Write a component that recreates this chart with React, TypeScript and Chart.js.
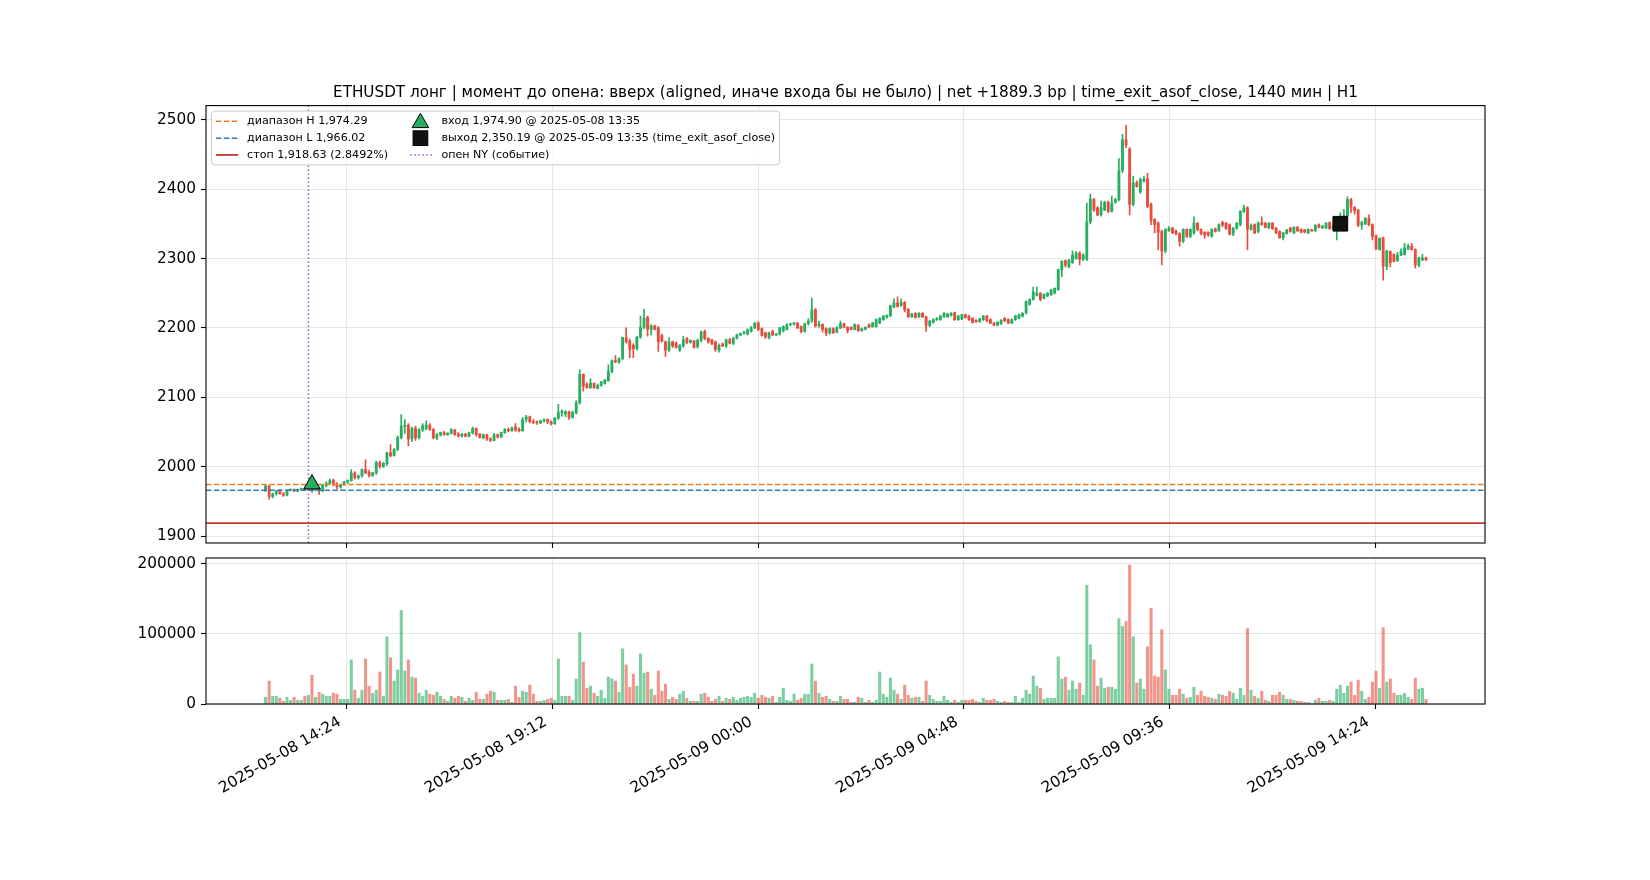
import { useEffect, useRef } from "react";
import { Chart, registerables } from "chart.js";

Chart.register(...registerables);

// ---------------- data ----------------
// first candle: 2025-05-08 12:30 (hours since 2025-05-08 00:00), 5-minute candles
const FIRST_CANDLE_HOUR = 12.5;
const CANDLE_MINUTES = 5;

const OPEN = [
  1966,1972,1957,1961,1965,1961,1959,1966,1967,1965,
  1967,1968,1967,1970,1967,1969,1965,1973,1976,1980,
  1975,1971,1974,1978,1980,1991,1984,1987,1996,1992,
  1987,1991,2006,2000,2004,2020,2016,2025,2042,2058,
  2060,2040,2055,2042,2053,2055,2060,2054,2041,2046,
  2049,2046,2048,2053,2047,2044,2047,2044,2049,2055,
  2047,2042,2046,2040,2038,2046,2043,2049,2054,2052,
  2057,2054,2052,2068,2072,2065,2064,2063,2066,2068,
  2064,2062,2070,2078,2076,2079,2071,2078,2092,2133,
  2119,2114,2120,2113,2117,2120,2124,2137,2153,2151,
  2156,2186,2181,2175,2170,2187,2201,2215,2198,2203,
  2200,2189,2180,2168,2180,2178,2168,2174,2185,2179,
  2181,2173,2182,2195,2185,2183,2180,2168,2177,2174,
  2183,2178,2185,2190,2192,2191,2195,2200,2207,2199,
  2193,2186,2195,2190,2191,2196,2198,2205,2205,2207,
  2202,2195,2206,2210,2226,2203,2205,2199,2193,2199,
  2194,2200,2206,2201,2201,2198,2204,2196,2198,2205,
  2202,2202,2207,2212,2215,2218,2230,2236,2232,2237,
  2227,2216,2221,2216,2221,2216,2204,2208,2212,2212,
  2216,2216,2218,2222,2212,2213,2219,2217,2214,2211,
  2209,2212,2217,2212,2207,2204,2206,2214,2212,2207,
  2212,2214,2217,2222,2234,2241,2247,2250,2243,2246,
  2248,2250,2255,2284,2297,2288,2294,2300,2308,2299,
  2299,2353,2385,2373,2363,2370,2381,2368,2381,2385,
  2427,2471,2458,2378,2409,2396,2412,2415,2378,2356,
  2351,2339,2311,2340,2344,2340,2336,2325,2342,2332,
  2337,2351,2342,2338,2338,2332,2343,2340,2352,2351,
  2349,2335,2344,2349,2368,2373,2342,2349,2339,2352,
  2351,2344,2351,2344,2339,2330,2336,2344,2337,2345,
  2342,2341,2337,2341,2340,2349,2344,2344,2352,2343,
  2347,2346,2350,2362,2385,2374,2370,2348,2350,2358,
  2349,2333,2313,2330,2289,2310,2306,2297,2305,2306,
  2314,2318,2313,2291,2298,2301,
];
const HIGH = [
  1973,1973,1962,1966,1967,1963,1967,1968,1968,1968,
  1969,1970,1971,1976,1970,1970,1975,1978,1982,1982,
  1977,1975,1979,1981,1996,1993,1988,1997,2010,1995,
  1992,2008,2008,2006,2021,2032,2026,2044,2075,2068,
  2062,2057,2058,2055,2062,2066,2062,2055,2048,2050,
  2051,2049,2055,2054,2049,2048,2048,2050,2057,2056,
  2048,2047,2047,2042,2048,2047,2050,2055,2056,2057,
  2062,2056,2071,2074,2073,2068,2066,2067,2069,2069,
  2066,2071,2090,2082,2081,2080,2080,2095,2140,2134,
  2121,2127,2121,2119,2123,2126,2147,2154,2160,2157,
  2187,2200,2184,2177,2188,2217,2227,2217,2205,2204,
  2202,2191,2181,2186,2181,2180,2176,2188,2186,2183,
  2182,2184,2196,2197,2186,2184,2181,2177,2178,2184,
  2185,2187,2191,2193,2195,2199,2202,2208,2209,2200,
  2194,2194,2197,2192,2201,2203,2206,2207,2208,2208,
  2203,2207,2213,2243,2228,2210,2206,2200,2200,2200,
  2202,2210,2207,2202,2202,2206,2205,2200,2202,2206,
  2208,2213,2215,2218,2219,2233,2242,2245,2242,2238,
  2228,2221,2222,2222,2222,2217,2211,2213,2215,2218,
  2222,2221,2222,2223,2218,2220,2220,2218,2215,2212,
  2214,2218,2218,2213,2208,2209,2212,2215,2213,2213,
  2218,2220,2222,2239,2242,2259,2259,2251,2249,2251,
  2256,2258,2285,2297,2298,2299,2311,2310,2310,2307,
  2380,2393,2387,2375,2383,2383,2383,2390,2387,2444,
  2479,2492,2460,2419,2412,2416,2419,2423,2380,2358,
  2353,2341,2343,2346,2345,2341,2337,2343,2343,2343,
  2360,2352,2343,2339,2339,2343,2344,2350,2354,2352,
  2350,2345,2352,2369,2377,2375,2350,2350,2353,2360,
  2352,2352,2352,2345,2340,2338,2342,2345,2346,2346,
  2343,2342,2343,2342,2349,2350,2348,2352,2353,2350,
  2352,2366,2371,2389,2387,2375,2371,2354,2359,2363,
  2350,2334,2330,2331,2312,2311,2307,2309,2314,2322,
  2321,2322,2314,2302,2306,2302,
];
const LOW = [
  1964,1953,1955,1959,1960,1957,1958,1965,1964,1964,
  1966,1966,1966,1963,1965,1960,1964,1971,1974,1972,
  1968,1969,1973,1976,1979,1982,1982,1985,1990,1985,
  1986,1989,1998,1999,2002,2014,2015,2023,2040,2048,
  2030,2036,2038,2040,2051,2053,2052,2040,2039,2044,
  2045,2045,2047,2045,2043,2043,2043,2043,2047,2044,
  2041,2040,2038,2036,2037,2041,2042,2048,2050,2051,
  2051,2050,2051,2064,2063,2062,2061,2062,2064,2062,
  2060,2061,2068,2073,2072,2068,2070,2076,2090,2109,
  2113,2113,2113,2112,2116,2119,2123,2135,2150,2149,
  2154,2178,2157,2157,2168,2185,2199,2188,2190,2197,
  2166,2180,2159,2166,2172,2171,2166,2172,2177,2178,
  2171,2171,2180,2183,2178,2176,2166,2165,2173,2172,
  2177,2176,2184,2189,2191,2190,2194,2199,2196,2188,
  2185,2184,2189,2189,2190,2194,2197,2203,2204,2199,
  2193,2194,2204,2208,2201,2201,2194,2189,2191,2192,
  2193,2199,2200,2193,2197,2197,2195,2195,2197,2200,
  2201,2201,2206,2211,2214,2216,2229,2230,2231,2223,
  2215,2215,2214,2215,2215,2195,2202,2207,2211,2211,
  2215,2215,2217,2211,2211,2212,2214,2211,2207,2208,
  2208,2211,2209,2206,2203,2203,2205,2209,2206,2206,
  2211,2213,2216,2220,2233,2240,2246,2239,2242,2245,
  2247,2249,2254,2274,2288,2287,2293,2299,2291,2297,
  2297,2350,2368,2362,2361,2369,2366,2367,2380,2383,
  2424,2460,2363,2376,2403,2394,2410,2373,2349,2337,
  2313,2291,2308,2339,2336,2334,2318,2323,2330,2330,
  2335,2340,2334,2329,2332,2331,2338,2339,2346,2342,
  2334,2333,2342,2347,2366,2313,2341,2336,2337,2348,
  2344,2343,2342,2336,2329,2327,2335,2338,2336,2339,
  2337,2337,2336,2339,2339,2344,2343,2343,2342,2341,
  2327,2345,2349,2360,2366,2364,2346,2342,2349,2347,
  2327,2313,2312,2269,2284,2288,2295,2296,2304,2305,
  2313,2312,2286,2288,2297,2297,
];
const CLOSE = [
  1972,1957,1961,1965,1961,1959,1966,1967,1965,1967,
  1968,1967,1970,1967,1969,1965,1973,1976,1980,1975,
  1971,1974,1978,1980,1991,1984,1987,1996,1991,1987,
  1991,2006,2000,2005,2020,2016,2025,2042,2058,2060,
  2040,2055,2042,2053,2059,2060,2054,2042,2046,2049,
  2046,2048,2053,2046,2044,2047,2044,2049,2055,2046,
  2042,2046,2040,2038,2046,2043,2049,2054,2052,2056,
  2053,2052,2068,2072,2065,2064,2063,2066,2068,2064,
  2062,2070,2078,2080,2079,2071,2078,2092,2133,2116,
  2114,2120,2114,2117,2122,2125,2137,2153,2151,2156,
  2186,2180,2169,2170,2187,2201,2214,2198,2203,2198,
  2180,2181,2168,2180,2174,2172,2175,2183,2179,2182,
  2172,2182,2194,2185,2180,2177,2169,2175,2174,2183,
  2178,2185,2190,2192,2194,2197,2200,2207,2198,2189,
  2187,2193,2190,2191,2200,2202,2205,2206,2207,2200,
  2195,2206,2210,2226,2203,2206,2198,2192,2199,2193,
  2200,2206,2201,2196,2198,2205,2196,2199,2201,2201,
  2207,2212,2214,2217,2218,2232,2236,2231,2237,2226,
  2216,2220,2215,2221,2216,2204,2210,2212,2214,2217,
  2221,2220,2221,2212,2217,2219,2215,2212,2208,2209,
  2213,2217,2210,2207,2204,2208,2211,2210,2207,2212,
  2217,2219,2221,2238,2241,2252,2250,2241,2248,2250,
  2255,2257,2284,2296,2291,2298,2305,2308,2299,2305,
  2353,2386,2370,2363,2373,2381,2368,2380,2385,2427,
  2471,2464,2378,2409,2404,2414,2415,2375,2355,2349,
  2338,2311,2342,2344,2337,2336,2325,2342,2332,2342,
  2351,2342,2336,2334,2334,2342,2339,2349,2348,2343,
  2335,2344,2351,2368,2373,2342,2348,2337,2351,2349,
  2345,2351,2343,2337,2330,2337,2341,2339,2345,2340,
  2338,2338,2342,2340,2348,2345,2347,2351,2343,2347,
  2349,2350,2362,2385,2374,2369,2348,2352,2358,2349,
  2332,2314,2329,2289,2311,2294,2296,2305,2310,2315,
  2318,2313,2291,2301,2301,2298,
];
const VOLUME = [
  9600,32700,11000,11000,8200,3800,9600,5300,9600,5300,
  5300,11000,12500,41000,9600,16800,14000,11000,11000,15400,
  14000,6700,6700,6700,63000,19700,8200,19700,64400,25500,
  15400,19700,45700,11000,96000,65900,32700,48600,133700,47000,
  63000,38500,37000,15400,11000,19700,14000,12500,16800,11000,
  6700,3800,11000,8200,11000,9600,3800,8200,5300,16800,
  6700,6700,14000,18300,16800,5300,5300,5300,6700,2400,
  25500,9600,18300,16800,26900,14000,3800,3800,5300,6700,
  8200,5300,64400,11000,11000,11000,5300,35600,102000,60000,
  22600,25500,15400,11000,19700,8200,38500,35600,32700,16800,
  78800,55800,24000,42800,25500,71600,44200,45700,21200,12500,
  47000,18300,28400,6700,9600,6700,14000,18300,8200,3800,
  3800,3800,14000,15400,9600,3800,6700,11000,3800,8200,
  6700,9600,5300,8200,9600,11000,9600,15400,8200,12500,
  9600,8200,11000,2400,9600,22600,5300,3800,14000,5300,
  8200,14000,14000,57000,32700,15400,9600,11000,6700,3800,
  3800,11000,6700,6700,2400,2400,9600,8200,2400,5300,
  2400,5300,45700,14000,9600,37000,19700,14000,6700,26900,
  12500,8200,9600,9600,3800,32700,12500,6700,3800,3800,
  11000,5300,2400,5300,2400,5300,5300,5300,6700,3800,
  2400,8200,5300,5300,6700,3800,2400,3800,2400,2400,
  11000,2400,8200,19700,14000,40000,25500,22600,6700,8200,
  8200,8200,67300,35600,38500,19700,32700,21200,29800,12500,
  169700,84600,63000,25500,37000,22600,24000,24000,21200,122000,
  110600,117800,198600,96000,29800,35600,21200,81700,136500,40000,
  38500,106000,48600,21200,12500,12500,21200,14000,8200,9600,
  24000,12500,18300,11000,9600,8200,6700,14000,12500,11000,
  18300,15400,6700,22600,12500,107700,19700,11000,8200,18300,
  5300,3800,12500,12500,16800,12500,6700,6700,5300,3800,
  3800,2400,2400,1000,5300,8200,3800,3800,5300,3800,
  21200,26900,15400,25500,31300,12500,34100,18300,6700,9600,
  31300,47000,22600,109000,31300,35600,15400,12500,12500,15400,
  9600,6700,37000,21200,22600,6700,
];

const X_TICK_VALUES = [14.4, 19.2, 24, 28.8, 33.6, 38.4];
const X_TICK_LABELS = [
  "2025-05-08 14:24",
  "2025-05-08 19:12",
  "2025-05-09 00:00",
  "2025-05-09 04:48",
  "2025-05-09 09:36",
  "2025-05-09 14:24",
];
const PRICE_TICKS = [1900, 2000, 2100, 2200, 2300, 2400, 2500];
const VOLUME_TICKS = [0, 100000, 200000];

const RANGE_HIGH = 1974.29;
const RANGE_LOW = 1966.02;
const STOP_PRICE = 1918.63;
const ENTRY_HOUR = 13 + 35 / 60;
const ENTRY_PRICE = 1974.9;
const EXIT_HOUR = 24 + 13 + 35 / 60;
const EXIT_PRICE = 2350.19;
const NY_OPEN_HOUR = 13.5;

const TITLE =
  "ETHUSDT лонг | момент до опена: вверх (aligned, иначе входа бы не было) | net +1889.3 bp | time_exit_asof_close, 1440 мин | H1";

// ---------------- styling ----------------
const X_MIN = 11.11;
const X_MAX = 40.96;
const Y_MIN = 1890;
const Y_MAX = 2520.5;
const V_MAX = 208500;

const GREEN = "#27ae60";
const RED = "#e74c3c";
const VOL_GREEN = "rgba(39,174,96,0.6)";
const VOL_RED = "rgba(231,76,60,0.6)";
const ORANGE = "#e67e22";
const BLUE = "#2980b9";
const STOP_RED = "#c0392b";
const PURPLE = "#9b59b6";
const GRID = "rgba(176,176,176,0.3)";
const FONT = "'DejaVu Sans', sans-serif";
const TICK_FS = 15.3;
const TITLE_FS = 15.2;

type LegendItem = {
  label: string;
  kind: "line" | "triangle" | "square";
  color: string;
  dash?: number[];
  width?: number;
};

const LEGEND_ITEMS: LegendItem[] = [
  { label: "диапазон H 1,974.29", kind: "line", color: ORANGE, dash: [5.5, 2.4], width: 1.5 },
  { label: "диапазон L 1,966.02", kind: "line", color: BLUE, dash: [5.5, 2.4], width: 1.5 },
  { label: "стоп 1,918.63 (2.8492%)", kind: "line", color: STOP_RED, dash: [], width: 1.8 },
  { label: "вход 1,974.90 @ 2025-05-08 13:35", kind: "triangle", color: GREEN },
  { label: "выход 2,350.19 @ 2025-05-09 13:35 (time_exit_asof_close)", kind: "square", color: "#111111" },
  { label: "опен NY (событие)", kind: "line", color: PURPLE, dash: [1.5, 2.5], width: 1.5 },
];

function drawTriangle(ctx: CanvasRenderingContext2D, cx: number, cy: number, r: number, fill: string) {
  ctx.beginPath();
  ctx.moveTo(cx, cy - r);
  ctx.lineTo(cx + r * 0.866, cy + r * 0.5);
  ctx.lineTo(cx - r * 0.866, cy + r * 0.5);
  ctx.closePath();
  ctx.fillStyle = fill;
  ctx.fill();
  ctx.setLineDash([]);
  ctx.lineWidth = 1;
  ctx.strokeStyle = "#000";
  ctx.stroke();
}

const framePlugin = {
  id: "frame",
  afterDraw(chart: any) {
    const { ctx, chartArea: a } = chart;
    ctx.save();
    ctx.strokeStyle = "#000";
    ctx.lineWidth = 1.1;
    ctx.setLineDash([]);
    ctx.strokeRect(a.left, a.top, a.right - a.left, a.bottom - a.top);
    ctx.restore();
  },
};

const legendPlugin = {
  id: "figLegend",
  afterDraw(chart: any) {
    const { ctx, chartArea: a } = chart;
    const fs = 11.1;
    ctx.save();
    ctx.font = `${fs}px ${FONT}`;
    const pad = 0.4 * fs;
    const handleLen = 2 * fs;
    const textPad = 0.8 * fs;
    const colGap = 2 * fs;
    const pitch = 16.8;
    const left = a.left + 0.5 * fs;
    const top = a.top + 0.5 * fs;
    const col1 = LEGEND_ITEMS.slice(0, 3);
    const col2 = LEGEND_ITEMS.slice(3);
    const w1 = Math.max(...col1.map((it) => ctx.measureText(it.label).width));
    const w2 = Math.max(...col2.map((it) => ctx.measureText(it.label).width));
    const c1 = left + pad;
    const c2 = c1 + handleLen + textPad + w1 + colGap;
    const width = c2 + handleLen + textPad + w2 + pad - left;
    const height = 53.7;
    const r = 3;
    ctx.beginPath();
    ctx.moveTo(left + r, top);
    ctx.lineTo(left + width - r, top);
    ctx.arcTo(left + width, top, left + width, top + r, r);
    ctx.lineTo(left + width, top + height - r);
    ctx.arcTo(left + width, top + height, left + width - r, top + height, r);
    ctx.lineTo(left + r, top + height);
    ctx.arcTo(left, top + height, left, top + height - r, r);
    ctx.lineTo(left, top + r);
    ctx.arcTo(left, top, left + r, top, r);
    ctx.closePath();
    ctx.fillStyle = "rgba(255,255,255,0.8)";
    ctx.fill();
    ctx.strokeStyle = "#cccccc";
    ctx.lineWidth = 1;
    ctx.stroke();

    const drawItem = (it: LegendItem, x: number, y: number) => {
      if (it.kind === "line") {
        ctx.beginPath();
        ctx.setLineDash(it.dash || []);
        ctx.strokeStyle = it.color;
        ctx.lineWidth = it.width || 1.5;
        ctx.moveTo(x, y);
        ctx.lineTo(x + handleLen, y);
        ctx.stroke();
        ctx.setLineDash([]);
      } else if (it.kind === "triangle") {
        drawTriangle(ctx, x + handleLen / 2 - 1, y + 1.5, 9.5, it.color);
      } else {
        const s = 14.7;
        ctx.setLineDash([]);
        ctx.fillStyle = it.color;
        ctx.fillRect(x + handleLen / 2 - 1 - s / 2, y - s / 2, s, s);
        ctx.strokeStyle = "#000";
        ctx.lineWidth = 1;
        ctx.strokeRect(x + handleLen / 2 - 1 - s / 2, y - s / 2, s, s);
      }
      ctx.fillStyle = "#000";
      ctx.textAlign = "left";
      ctx.textBaseline = "middle";
      ctx.fillText(it.label, x + handleLen + textPad, y);
    };
    col1.forEach((it, k) => drawItem(it, c1, top + 10.2 + k * pitch));
    col2.forEach((it, k) => drawItem(it, c2, top + 10.2 + k * pitch));
    ctx.restore();
  },
};

const titlePlugin = {
  id: "figTitle",
  afterDraw(chart: any) {
    const { ctx, chartArea: a } = chart;
    ctx.save();
    ctx.font = `${TITLE_FS}px ${FONT}`;
    ctx.fillStyle = "#000";
    ctx.textAlign = "center";
    ctx.textBaseline = "alphabetic";
    ctx.fillText(TITLE, (a.left + a.right) / 2, a.top - 8.3);
    ctx.restore();
  },
};

function gridOpts() {
  return {
    color: GRID,
    lineWidth: 1,
    tickColor: "#000",
    tickLength: 5,
    tickWidth: 1.1,
    drawTicks: true,
    offset: false,
  };
}

export default function App() {
  const priceRef = useRef<HTMLCanvasElement>(null);
  const volRef = useRef<HTMLCanvasElement>(null);

  useEffect(() => {
    Chart.defaults.font.family = FONT;
    const times = OPEN.map((_, i) => FIRST_CANDLE_HOUR + (i * CANDLE_MINUTES) / 60);
    const candleColors = OPEN.map((o, i) => (CLOSE[i] >= o ? GREEN : RED));
    const volColors = OPEN.map((o, i) => (CLOSE[i] >= o ? VOL_GREEN : VOL_RED));

    const hline = (y: number, color: string, dash: number[], width: number) => ({
      type: "line" as const,
      data: [
        { x: X_MIN, y },
        { x: X_MAX, y },
      ],
      borderColor: color,
      borderWidth: width,
      borderDash: dash,
      pointRadius: 0,
      fill: false,
      order: 1,
    });

    const price = new Chart(priceRef.current as HTMLCanvasElement, {
      type: "bar",
      data: {
        datasets: [
          {
            type: "line",
            data: [{ x: ENTRY_HOUR, y: ENTRY_PRICE }],
            showLine: false,
            pointStyle: "triangle",
            pointRadius: 9.5,
            pointBackgroundColor: GREEN,
            pointBorderColor: "#000",
            pointBorderWidth: 1,
            order: 0,
          } as any,
          {
            type: "line",
            data: [{ x: EXIT_HOUR, y: EXIT_PRICE }],
            showLine: false,
            pointStyle: "rect",
            pointRadius: 10.4,
            pointBackgroundColor: "#111111",
            pointBorderColor: "#000",
            pointBorderWidth: 1,
            order: 0,
          } as any,
          hline(RANGE_HIGH, ORANGE, [5.5, 2.4], 1.5) as any,
          hline(RANGE_LOW, BLUE, [5.5, 2.4], 1.5) as any,
          hline(STOP_PRICE, STOP_RED, [], 1.8) as any,
          {
            type: "line",
            data: [
              { x: NY_OPEN_HOUR, y: Y_MIN },
              { x: NY_OPEN_HOUR, y: Y_MAX },
            ],
            borderColor: PURPLE,
            borderWidth: 1.5,
            borderDash: [1.5, 2.5],
            pointRadius: 0,
            order: 1,
          } as any,
          {
            type: "bar",
            data: times.map((x, i) => ({ x, y: [OPEN[i], CLOSE[i]] })),
            backgroundColor: candleColors,
            barThickness: 2.2,
            grouped: false,
            minBarLength: 1,
            order: 2,
          } as any,
          {
            type: "bar",
            data: times.map((x, i) => ({ x, y: [LOW[i], HIGH[i]] })),
            backgroundColor: candleColors,
            barThickness: 1,
            grouped: false,
            order: 3,
          } as any,
        ],
      },
      options: {
        animation: false,
        responsive: false,
        maintainAspectRatio: false,
        events: [],
        layout: { padding: { top: 105.6, right: 165, left: 0, bottom: 0 } },
        plugins: { legend: { display: false }, tooltip: { enabled: false }, title: { display: false } },
        scales: {
          x: {
            type: "linear",
            min: X_MIN,
            max: X_MAX,
            offset: false,
            afterBuildTicks: (s: any) => {
              s.ticks = X_TICK_VALUES.map((v) => ({ value: v }));
            },
            afterFit: (s: any) => {
              s.height = 17;
            },
            ticks: { callback: () => "", autoSkip: false, maxRotation: 0, minRotation: 0 },
            grid: gridOpts(),
            border: { display: false },
          },
          y: {
            type: "linear",
            min: Y_MIN,
            max: Y_MAX,
            afterBuildTicks: (s: any) => {
              s.ticks = PRICE_TICKS.map((v) => ({ value: v }));
            },
            afterFit: (s: any) => {
              s.width = 206;
            },
            ticks: {
              font: { family: FONT, size: TICK_FS },
              color: "#000",
              padding: 5,
              callback: (v: any) => String(v),
            },
            grid: gridOpts(),
            border: { display: false },
          },
        },
      } as any,
      plugins: [framePlugin, legendPlugin, titlePlugin],
    });

    const volume = new Chart(volRef.current as HTMLCanvasElement, {
      type: "bar",
      data: {
        datasets: [
          {
            type: "bar",
            data: times.map((x, i) => ({ x, y: VOLUME[i] })),
            backgroundColor: volColors,
            barThickness: 2.4,
            grouped: false,
          } as any,
        ],
      },
      options: {
        animation: false,
        responsive: false,
        maintainAspectRatio: false,
        events: [],
        layout: { padding: { top: 28, right: 165, left: 0, bottom: 0 } },
        plugins: { legend: { display: false }, tooltip: { enabled: false } },
        scales: {
          x: {
            type: "linear",
            min: X_MIN,
            max: X_MAX,
            offset: false,
            afterBuildTicks: (s: any) => {
              s.ticks = X_TICK_VALUES.map((v) => ({ value: v }));
            },
            afterFit: (s: any) => {
              s.height = 176;
            },
            ticks: {
              autoSkip: false,
              maxRotation: 30,
              minRotation: 30,
              labelOffset: -7,
              padding: 4,
              font: { family: FONT, size: TICK_FS },
              color: "#000",
              callback: (_v: any, idx: number) => X_TICK_LABELS[idx],
            },
            grid: gridOpts(),
            border: { display: false },
          },
          y: {
            type: "linear",
            min: 0,
            max: V_MAX,
            afterBuildTicks: (s: any) => {
              s.ticks = VOLUME_TICKS.map((v) => ({ value: v }));
            },
            afterFit: (s: any) => {
              s.width = 206;
            },
            ticks: {
              font: { family: FONT, size: TICK_FS },
              color: "#000",
              padding: 5,
              callback: (v: any) => String(v),
            },
            grid: gridOpts(),
            border: { display: false },
          },
        },
      } as any,
      plugins: [framePlugin],
    });

    return () => {
      price.destroy();
      volume.destroy();
    };
  }, []);

  return (
    <div
      style={{
        position: "absolute",
        left: 0,
        top: 0,
        width: 1650,
        height: 880,
        background: "#ffffff",
        overflow: "hidden",
      }}
    >
      <canvas
        ref={priceRef}
        width={1650}
        height={560}
        style={{ position: "absolute", left: 0, top: 0, width: 1650, height: 560 }}
      />
      <canvas
        ref={volRef}
        width={1650}
        height={350}
        style={{ position: "absolute", left: 0, top: 530, width: 1650, height: 350 }}
      />
    </div>
  );
}
